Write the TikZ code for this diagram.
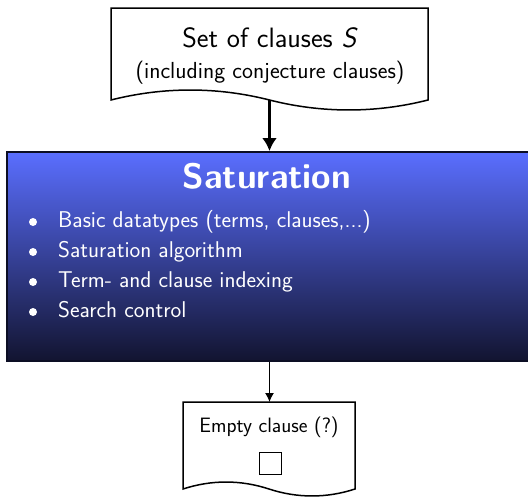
\documentclass[tikz,border=0pt]{standalone}
\usepackage{fontspec}
\usetikzlibrary{arrows.meta}
\definecolor{satTop}{RGB}{90,110,255}
\definecolor{satBot}{RGB}{18,20,48}
\definecolor{satEdge}{RGB}{12,14,36}
\tikzset{
  docshape/.style={draw=black, line width=1.5pt, fill=white, line join=miter},
  satbox/.style={draw=satEdge, line width=2pt, top color=satTop, bottom color=satBot,
    rectangle, inner sep=0pt},
  txt/.style={inner sep=0pt, anchor=base},
  itemtxt/.style={inner sep=0pt, anchor=base west, text=white,
    font=\sffamily\fontsize{22.8}{27}\selectfont},
  bulletdot/.style={circle, fill=white, inner sep=0pt, minimum size=8pt},
  thickarrow/.style={line width=3pt, -{Latex[length=13pt,width=15pt]}},
  thinarrow/.style={line width=1.3pt, -{Latex[length=9pt,width=9pt]}},
}
\begin{document}
\begin{tikzpicture}[x=1pt, y=-1pt, font=\sffamily]
\useasboundingbox (0,0) rectangle (528,498);

% input document: flat top, wavy bottom
\draw[docshape] (111,8) -- (428,8) -- (428,100)
  .. controls (375.7,113.3) and (321.8,113.3) .. (269.5,100)
  .. controls (217.2,86.7) and (163.3,86.7) .. (111,100) -- cycle;
\coordinate (srcbot) at (269.5,100);
\node[txt, font=\sffamily\fontsize{28}{32}\selectfont] (srcA) at (270,47)
  {Set of clauses \textit{S}};
\node[txt, font=\sffamily\fontsize{23.2}{27}\selectfont] (srcB) at (270,78)
  {(including conjecture clauses)};

% saturation engine
\node[satbox, minimum width=525pt, minimum height=209pt] (sat) at (269.5,256.5) {};
\node[txt, text=white, font=\sffamily\bfseries\fontsize{35.3}{40}\selectfont] (satT) at (267,188)
  {Saturation};
\node[bulletdot] (d1) at (33,222) {};
\node[bulletdot] (d2) at (33,252) {};
\node[bulletdot] (d3) at (33,282) {};
\node[bulletdot] (d4) at (33,312) {};
\node[itemtxt] (i1) at (58,227) {Basic datatypes (terms, clauses,...)};
\node[itemtxt] (i2) at (58,257) {Saturation algorithm};
\node[itemtxt] (i3) at (58,287) {Term- and clause indexing};
\node[itemtxt] (i4) at (58,317) {Search control};

% output document
\draw[docshape] (183,402) -- (355,402) -- (355,489)
  .. controls (326.6,498.3) and (297.4,498.3) .. (269,489)
  .. controls (240.6,479.7) and (211.4,479.7) .. (183,489) -- cycle;
\coordinate (outtop) at (269.5,402);
\node[txt, font=\sffamily\fontsize{20.8}{25}\selectfont] (outT) at (269,432)
  {Empty clause (?)};
\node[draw=black, line width=1.1pt, minimum size=22pt, inner sep=0pt] (box) at (270.5,463.5) {};

% connectors
\draw[thickarrow] (srcbot) -- (sat.north -| srcbot);
\draw[thinarrow] (sat.south -| outtop) -- (outtop);
\end{tikzpicture}
\end{document}
